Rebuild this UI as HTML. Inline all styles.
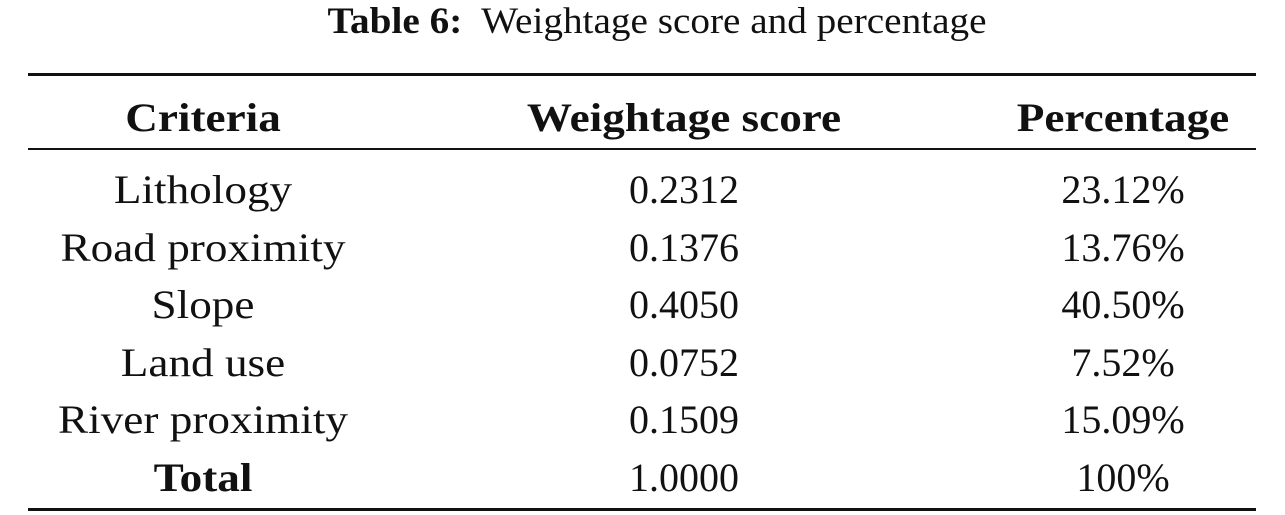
<!DOCTYPE html>
<html><head><meta charset="utf-8"><style>
html,body{margin:0;padding:0;background:#fff;}
body{width:1285px;height:515px;position:relative;overflow:hidden;font-family:"Liberation Serif",serif;color:#111;}
.t{position:absolute;font-size:40px;line-height:40px;white-space:nowrap;transform:translateX(-50%);}
.s{transform:translateX(-50%) scaleX(1.13);}
.b{font-weight:bold;}
.r{position:absolute;left:28px;width:1228px;background:#111;}
</style></head><body>
<div class="t" style="left:657px;top:2px;font-size:37px;transform:translateX(-50%) scaleX(1.06);"><span class="b">Table 6:</span>&nbsp; Weightage score and percentage</div>
<div class="r" style="top:73px;height:3px;"></div>
<div class="t b s" style="left:203px;top:98px;">Criteria</div>
<div class="t b s" style="left:684px;top:98px;">Weightage score</div>
<div class="t b s" style="left:1123px;top:98px;">Percentage</div>
<div class="r" style="top:148px;height:2px;"></div>

<div class="t s" style="left:203px;top:170px;">Lithology</div>
<div class="t" style="left:684px;top:170px;">0.2312</div>
<div class="t" style="left:1123px;top:170px;">23.12%</div>

<div class="t s" style="left:203px;top:228px;">Road proximity</div>
<div class="t" style="left:684px;top:228px;">0.1376</div>
<div class="t" style="left:1123px;top:228px;">13.76%</div>

<div class="t s" style="left:203px;top:285px;">Slope</div>
<div class="t" style="left:684px;top:285px;">0.4050</div>
<div class="t" style="left:1123px;top:285px;">40.50%</div>

<div class="t s" style="left:203px;top:343px;">Land use</div>
<div class="t" style="left:684px;top:343px;">0.0752</div>
<div class="t" style="left:1123px;top:343px;">7.52%</div>

<div class="t s" style="left:203px;top:400px;">River proximity</div>
<div class="t" style="left:684px;top:400px;">0.1509</div>
<div class="t" style="left:1123px;top:400px;">15.09%</div>

<div class="t b s" style="left:203px;top:458px;">Total</div>
<div class="t" style="left:684px;top:458px;">1.0000</div>
<div class="t" style="left:1123px;top:458px;">100%</div>
<div class="r" style="top:508px;height:3px;"></div>
</body></html>
